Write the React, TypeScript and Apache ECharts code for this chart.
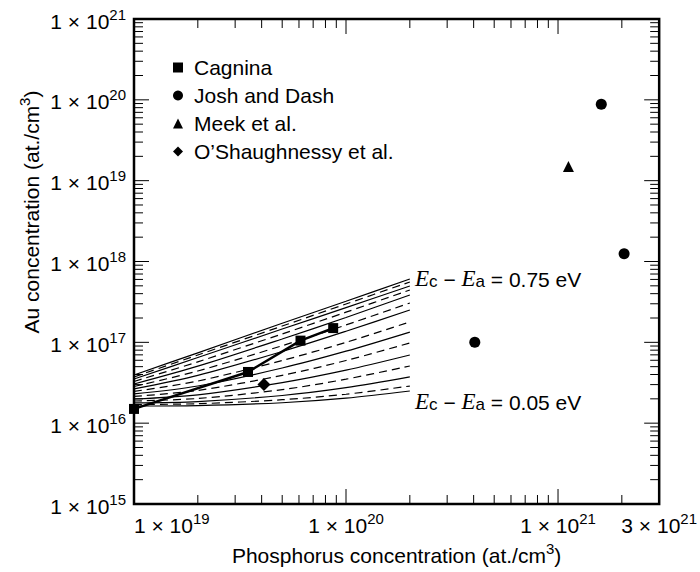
import React, { useEffect, useRef } from 'react';
import * as echarts from 'echarts';

const FONT = '"Liberation Sans", Arial, Helvetica, sans-serif';
const SERIF = '"Liberation Serif", "Times New Roman", serif';

// Curves: Au concentration vs P concentration for E_c - E_a from 0.05 to 0.75 eV
const curveX = [1e19, 2e19, 5e19, 1e20, 2e20];
const curve005 = [1.63e16, 1.65e16, 1.79e16, 2.04e16, 2.5e16];
const curve010 = [1.7e16, 1.74e16, 1.95e16, 2.28e16, 2.88e16];
const curve015 = [1.78e16, 1.85e16, 2.2e16, 2.75e16, 3.73e16];
const curve020 = [1.88e16, 2.02e16, 2.6e16, 3.5e16, 5.1e16];
const curve025 = [1.99e16, 2.24e16, 3.17e16, 4.52e16, 6.97e16];
const curve030 = [2.14e16, 2.54e16, 3.9e16, 5.96e16, 9.81e16];
const curve035 = [2.3e16, 2.88e16, 4.81e16, 7.77e16, 1.34e17];
const curve040 = [2.47e16, 3.32e16, 5.96e16, 1.0e17, 1.79e17];
const curve045 = [2.65e16, 3.9e16, 7.7e16, 1.37e17, 2.51e17];
const curve050 = [2.84e16, 4.42e16, 9.09e16, 1.64e17, 3.07e17];
const curve055 = [3.05e16, 5.07e16, 1.1e17, 2.03e17, 3.85e17];
const curve060 = [3.28e16, 5.74e16, 1.27e17, 2.36e17, 4.44e17];
const curve065 = [3.52e16, 6.49e16, 1.46e17, 2.69e17, 4.98e17];
const curve070 = [3.73e16, 6.97e16, 1.59e17, 2.98e17, 5.58e17];
const curve075 = [3.94e16, 7.42e16, 1.72e17, 3.22e17, 6.07e17];

const curveNames = ['0.05', '0.10', '0.15', '0.20', '0.25', '0.30', '0.35', '0.40', '0.45', '0.50', '0.55', '0.60', '0.65', '0.70', '0.75'];
const curveValues = [curve005, curve010, curve015, curve020, curve025, curve030, curve035, curve040, curve045, curve050, curve055, curve060, curve065, curve070, curve075];

// Experimental data
const cagninaX = [1e19, 3.45e19, 6.1e19, 8.7e19];
const cagninaY = [1.5e16, 4.3e16, 1.05e17, 1.5e17];
const joshX = [4.05e20, 1.6e21, 2.05e21];
const joshY = [1.0e17, 8.8e19, 1.25e18];
const meekX = [1.12e21];
const meekY = [1.5e19];
const oshX = [4.1e19];
const oshY = [3.0e16];

// Ticks and tick labels
const xLabelValues = [1e19, 1e20, 1e21, 3e21];
const xMajorTicks = [1e19, 1e20, 1e21];
const xMinorTicks = [2e19, 3e19, 4e19, 5e19, 6e19, 7e19, 8e19, 9e19, 2e20, 3e20, 4e20, 5e20, 6e20, 7e20, 8e20, 9e20, 2e21, 3e21];
const yMajorTicks = [1e15, 1e16, 1e17, 1e18, 1e19, 1e20, 1e21];
const yMinorTicks: number[] = [];
for (const d of [1e15, 1e16, 1e17, 1e18, 1e19, 1e20]) for (let k = 2; k <= 9; k++) yMinorTicks.push(k * d);

const X_MIN = 1e19, X_MAX = 3e21, Y_MIN = 1e15, Y_MAX = 1e21;

const richNum = {
  n: { fontSize: 21, fontFamily: FONT, color: '#000', lineHeight: 25, verticalAlign: 'bottom' },
  s: { fontSize: 15, fontFamily: FONT, color: '#000', lineHeight: 15, verticalAlign: 'top' },
};

function sciLabel(v: number) {
  const e = Math.floor(Math.log10(v) + 1e-9);
  const m = Math.round(v / Math.pow(10, e));
  return `{n|${m} × 10}{s|${e}}`;
}

function zip(xs: number[], ys: number[]) {
  return xs.map((x, i) => [x, ys[i]]);
}

function tickSeries(dir: 'x' | 'y', values: number[], len: number) {
  return {
    type: 'custom',
    silent: true,
    clip: false,
    z: 6,
    data: values.map((v) => (dir === 'x' ? [v, Y_MIN] : [X_MIN, v])),
    encode: { x: 0, y: 1 },
    renderItem: (_params: any, api: any) => {
      const style = { stroke: '#000', lineWidth: 1 };
      if (dir === 'x') {
        const v = api.value(0);
        const b = api.coord([v, Y_MIN]);
        const t = api.coord([v, Y_MAX]);
        return {
          type: 'group',
          children: [
            { type: 'line', shape: { x1: b[0], y1: b[1], x2: b[0], y2: b[1] - len }, style },
            { type: 'line', shape: { x1: t[0], y1: t[1], x2: t[0], y2: t[1] + len }, style },
          ],
        };
      }
      const v = api.value(1);
      const l = api.coord([X_MIN, v]);
      const r = api.coord([X_MAX, v]);
      return {
        type: 'group',
        children: [
          { type: 'line', shape: { x1: l[0], y1: l[1], x2: l[0] + len, y2: l[1] }, style },
          { type: 'line', shape: { x1: r[0], y1: r[1], x2: r[0] - len, y2: r[1] }, style },
        ],
      };
    },
  };
}

export default function App() {
  const ref = useRef<HTMLDivElement>(null);
  useEffect(() => {
    if (!ref.current) return;
    const chart = echarts.init(ref.current, null, { renderer: 'svg' });

    const curveSeries = curveValues.map((vals, i) => ({
      name: `E_c - E_a = ${curveNames[i]} eV`,
      type: 'line',
      data: zip(curveX, vals),
      showSymbol: false,
      symbol: 'none',
      smooth: 0.3,
      silent: true,
      z: 2,
      lineStyle: { color: '#000', width: 1.2, type: i % 2 === 0 ? 'solid' : [8, 5] },
    }));

    const annRich = {
      E: { fontFamily: SERIF, fontStyle: 'italic', fontSize: 23, lineHeight: 26, color: '#000', verticalAlign: 'bottom' },
      b: { fontFamily: FONT, fontSize: 17, lineHeight: 12, color: '#000', verticalAlign: 'bottom' },
      t: { fontFamily: FONT, fontSize: 21, lineHeight: 26, color: '#000', verticalAlign: 'bottom' },
    };

    chart.setOption({
      animation: false,
      backgroundColor: '#fff',
      grid: { left: 134, right: 40, top: 19, bottom: 68, show: true, borderColor: '#000', borderWidth: 2.5, backgroundColor: 'transparent' },
      xAxis: {
        type: 'log',
        logBase: 10,
        min: X_MIN,
        max: X_MAX * 1.000001,
        axisLine: { show: false },
        axisTick: { show: false },
        minorTick: { show: false },
        splitLine: { show: false },
        axisLabel: {
          show: true, customValues: xLabelValues, margin: 7, formatter: sciLabel, rich: richNum,
          alignMinLabel: 'left',
        },
        name: '{n|Phosphorus concentration (at./cm}{s|3}{n|)}',
        nameLocation: 'middle',
        nameGap: 35,
        nameTextStyle: { rich: richNum },
      },
      yAxis: {
        type: 'log',
        logBase: 10,
        min: Y_MIN * 0.999999,
        max: Y_MAX * 1.000001,
        axisLine: { show: false },
        axisTick: { show: false },
        minorTick: { show: false },
        splitLine: { show: false },
        axisLabel: { show: true, customValues: yMajorTicks, margin: 8, formatter: sciLabel, rich: richNum },
      },
      legend: {
        orient: 'vertical',
        left: 173,
        top: 57,
        padding: 0,
        itemWidth: 10,
        itemHeight: 10,
        itemGap: 7,
        selectedMode: false,
        textStyle: { fontSize: 21, fontFamily: FONT, color: '#000', lineHeight: 21, padding: [0, 0, 0, 6] },
        data: [
          { name: 'Cagnina', icon: 'rect' },
          { name: 'Josh and Dash', icon: 'circle' },
          { name: 'Meek et al.', icon: 'triangle' },
          { name: 'O\u2019Shaughnessy et al.', icon: 'diamond' },
        ],
      },
      graphic: [
        {
          type: 'text', x: 29, y: 212, rotation: Math.PI / 2,
          style: {
            text: '{n|Au concentration (at./cm}{s|3}{n|)}',
            rich: richNum, align: 'center', verticalAlign: 'middle',
          },
        },
        {
          type: 'text', x: 415, y: 277,
          style: { text: '{E|E}{b|c}{t| − }{E|E}{b|a}{t| = 0.75 eV}', rich: annRich, align: 'left', verticalAlign: 'middle' },
        },
        {
          type: 'text', x: 415, y: 400,
          style: { text: '{E|E}{b|c}{t| − }{E|E}{b|a}{t| = 0.05 eV}', rich: annRich, align: 'left', verticalAlign: 'middle' },
        },
      ],
      series: [
        ...curveSeries,
        tickSeries('x', xMinorTicks, 9),
        tickSeries('x', xMajorTicks, 15),
        tickSeries('y', yMinorTicks, 9),
        tickSeries('y', yMajorTicks, 15),
        {
          name: 'Cagnina', type: 'line', data: zip(cagninaX, cagninaY),
          symbol: 'rect', symbolSize: 10, clip: false, z: 5,
          itemStyle: { color: '#000', opacity: 1 }, lineStyle: { color: '#000', width: 2.5 },
        },
        {
          name: 'Josh and Dash', type: 'scatter', data: zip(joshX, joshY),
          symbol: 'circle', symbolSize: 11, z: 5, itemStyle: { color: '#000', opacity: 1 },
        },
        {
          name: 'Meek et al.', type: 'scatter', data: zip(meekX, meekY),
          symbol: 'triangle', symbolSize: 11, z: 5, itemStyle: { color: '#000', opacity: 1 },
        },
        {
          name: 'O\u2019Shaughnessy et al.', type: 'scatter', data: zip(oshX, oshY),
          symbol: 'diamond', symbolSize: 13, z: 5, itemStyle: { color: '#000', opacity: 1 },
        },
      ],
    });
    return () => chart.dispose();
  }, []);
  return (
    <div
      ref={ref}
      style={{ position: 'fixed', left: 0, top: 0, width: 700, height: 572, background: '#fff' }}
    />
  );
}
